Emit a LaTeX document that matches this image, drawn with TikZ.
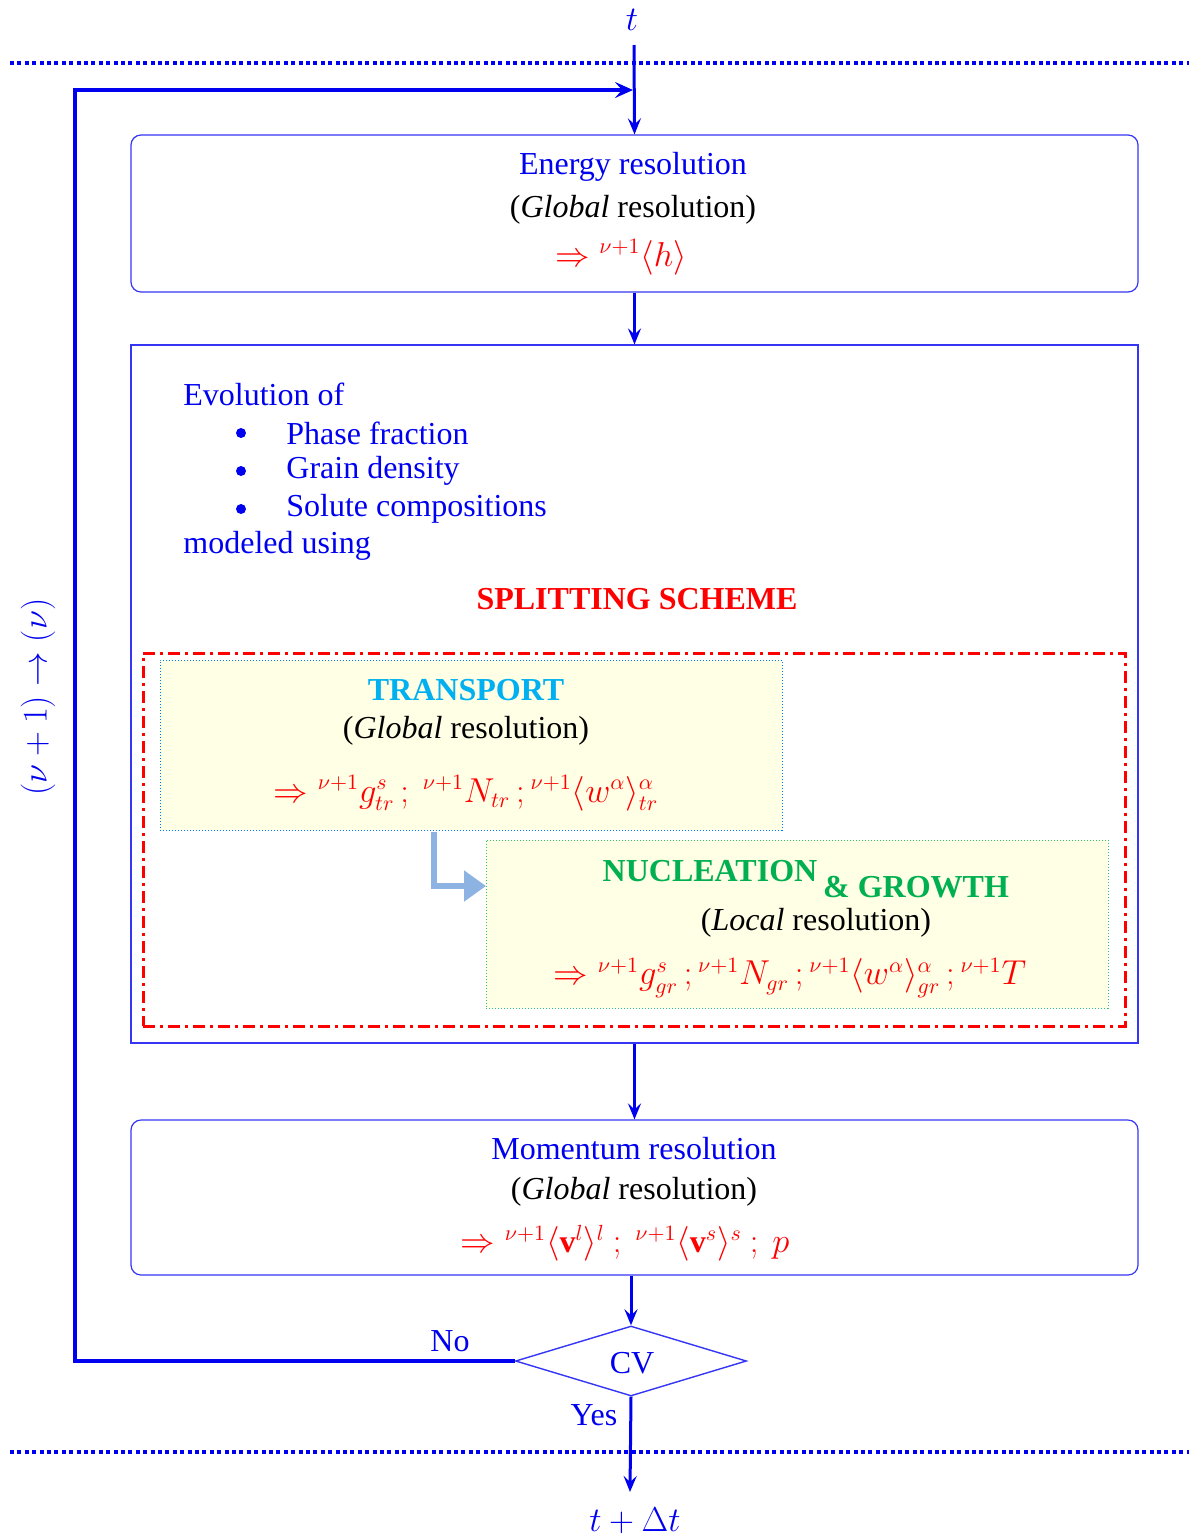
\documentclass[tikz,border=0pt]{standalone}
\usepackage{fontspec}
\setmainfont{Liberation Serif}
\usetikzlibrary{shapes.geometric,arrows.meta}
\definecolor{fblue}{HTML}{0000F0}
\definecolor{fred}{HTML}{FF0000}
\definecolor{fcyan}{HTML}{00B0F0}
\definecolor{fgreen}{HTML}{00B050}
\definecolor{fyellow}{HTML}{FFFFE6}
\definecolor{farrow}{HTML}{8DB3E2}
\definecolor{fborder}{HTML}{3535F5}
\begin{document}
\begin{tikzpicture}[x=0.5pt,y=-0.5pt,
  txt/.style={font=\fontsize{16}{19}\selectfont,inner sep=0pt},
  bluetxt/.style={txt,text=fblue},
  redtxt/.style={txt,text=fred},
  bul/.style={circle,fill=fblue,inner sep=0pt,minimum size=5pt},
  rbox/.style={draw=fborder,line width=0.6pt,rounded corners=5pt,minimum width=503.5pt,inner sep=0pt},
  sbox/.style={draw=fborder,line width=0.6pt,inner sep=0pt},
  tbox/.style={fill=fyellow,draw=#1,densely dotted,line width=0.5pt,inner sep=0pt,minimum width=311pt},
  dotline/.style={draw=fblue,line width=2.3pt,dash pattern=on 2pt off 1.7pt},
  flow/.style={draw=fblue,line width=1.5pt,-{Stealth[length=8pt,width=6.5pt,inset=3pt]}},
  loop/.style={draw=fblue,line width=2pt},
  decision/.style={diamond,draw=fborder,line width=0.7pt,minimum width=115.5pt,minimum height=35pt,inner sep=0pt,aspect=3.3}
]
\useasboundingbox (0,0) rectangle (1189,1537);

% dotted time lines
\coordinate (dlA) at (10,63);
\coordinate (drA) at (1189,63);
\coordinate (dlB) at (10,1452);
\coordinate (drB) at (1189,1452);
\draw[dotline] (dlA) -- (drA);
\draw[dotline] (dlB) -- (drB);

% boxes
\node[rbox,minimum height=78.5pt] (energy) at (634.5,213.5) {};
\node[sbox,minimum width=503.5pt,minimum height=349pt] (split) at (634.5,694) {};
\node[draw=fred,line width=1.5pt,dash pattern=on 6pt off 2.5pt on 1.5pt off 2.5pt,minimum width=491pt,minimum height=186.5pt,inner sep=0pt] (redbox) at (634,839.5) {};
\node[tbox=fcyan!70!blue,minimum height=85pt] (trans) at (471,745) {};
\node[tbox=fgreen!80,minimum height=84pt] (nuc) at (797,924) {};
\node[rbox,minimum height=77.5pt] (mom) at (634.5,1197.5) {};
\node[decision] (cv) at (631,1361) {};

% energy texts
\node[bluetxt] (t) at (632,20) {$t$};
\node[bluetxt] (en1) at (633,167) {Energy resolution};
\node[txt] (en2) at (633,210) {(\textit{Global} resolution)};
\node[redtxt] (en3) at (621,257) {$\Rightarrow {}^{\nu+1}\langle h\rangle$};

% splitting box texts
\node[bluetxt,anchor=west] (ev) at (183,394) {Evolution of};
\node[bul] (b1) at (241,433) {};
\node[bul] (b2) at (241,471) {};
\node[bul] (b3) at (241,509) {};
\node[bluetxt,anchor=west] (i1) at (286,433) {Phase fraction};
\node[bluetxt,anchor=west] (i2) at (286,471) {Grain density};
\node[bluetxt,anchor=west] (i3) at (286,509) {Solute compositions};
\node[bluetxt,anchor=west] (mu) at (183,546) {modeled using};
\node[redtxt,font=\fontsize{16}{19}\selectfont\bfseries] (ss) at (637,599) {SPLITTING SCHEME};

\node[txt,text=fcyan,font=\fontsize{16}{19}\selectfont\bfseries] (tr1) at (466,690) {TRANSPORT};
\node[txt] (tr2) at (466,731) {(\textit{Global} resolution)};
\node[redtxt] (tr3) at (466,793) {$\Rightarrow {}^{\nu+1}g^{s}_{tr}\,;\ {}^{\nu+1}N_{tr}\,;{}^{\nu+1}\langle w^{\alpha}\rangle^{\alpha}_{tr}$};

\node[txt,text=fgreen,font=\fontsize{16}{19}\selectfont\bfseries] (nu1) at (710,871) {NUCLEATION};
\node[txt,text=fgreen,font=\fontsize{16}{19}\selectfont\bfseries] (nu2) at (916,887) {\& GROWTH};
\node[txt] (nu3) at (816,923) {(\textit{Local} resolution)};
\node[redtxt] (nu4) at (790,978) {$\Rightarrow {}^{\nu+1}g^{s}_{gr}\,;{}^{\nu+1}N_{gr}\,;{}^{\nu+1}\langle w^{\alpha}\rangle^{\alpha}_{gr}\,;{}^{\nu+1}T$};

% momentum texts
\node[bluetxt] (mo1) at (634,1149) {Momentum resolution};
\node[txt] (mo2) at (634,1192) {(\textit{Global} resolution)};
\node[redtxt] (mo3) at (625,1243) {$\Rightarrow {}^{\nu+1}\langle \mathbf{v}^{l}\rangle^{l}\ ;\ {}^{\nu+1}\langle \mathbf{v}^{s}\rangle^{s}\ ;\ p$};

% decision texts
\node[bluetxt] (cvt) at (632,1363) {CV};
\node[bluetxt] (no) at (450,1341) {No};
\node[bluetxt] (yes) at (594,1415) {Yes};
\node[bluetxt] (tdt) at (635,1521) {$t+\Delta t$};
\node[bluetxt,rotate=90] (iter) at (38,697) {$(\nu+1)\rightarrow(\nu)$};

% connectors
\coordinate (tstart) at (634,45);
\coordinate (loopcorner) at (75,90);
\coordinate (loopend) at (633,90);
\coordinate (tend) at (630,1492);
\coordinate (bstart) at (434,832);
\coordinate (bend) at (486,886);

\draw[flow] (tstart) -- (energy.north);
\draw[loop,-{Stealth[length=9pt,width=8pt,inset=3.5pt]}] (cv.west) -| (loopcorner) -- (loopend);
\draw[flow] (energy.south) -- (split.north);
\draw[flow] (split.south) -- (mom.north);
\draw[flow] (cv.north |- mom.south) -- (cv.north);
\draw[flow] (cv.south) -- (tend);
\draw[draw=farrow,line width=2.6pt,-{Triangle[length=11pt,width=15pt]}] (bstart) |- (bend);
\end{tikzpicture}
\end{document}
